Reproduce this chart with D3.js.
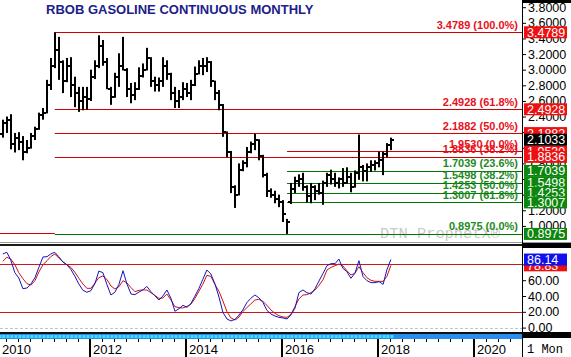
<!DOCTYPE html>
<html><head><meta charset="utf-8">
<script src="https://cdn.jsdelivr.net/npm/d3@7"></script>
<style>html,body{margin:0;padding:0;background:#fff;}svg{display:block;}</style>
</head><body>
<svg id="c" width="571" height="357"></svg>
<script>
// ---------------- DATA ----------------
const title = "RBOB GASOLINE CONTINUOUS MONTHLY";
const months = [
 "2010-03","2010-04","2010-05","2010-06","2010-07","2010-08","2010-09","2010-10","2010-11","2010-12",
 "2011-01","2011-02","2011-03","2011-04","2011-05","2011-06","2011-07","2011-08","2011-09","2011-10","2011-11","2011-12",
 "2012-01","2012-02","2012-03","2012-04","2012-05","2012-06","2012-07","2012-08","2012-09","2012-10","2012-11","2012-12",
 "2013-01","2013-02","2013-03","2013-04","2013-05","2013-06","2013-07","2013-08","2013-09","2013-10","2013-11","2013-12",
 "2014-01","2014-02","2014-03","2014-04","2014-05","2014-06","2014-07","2014-08","2014-09","2014-10","2014-11","2014-12",
 "2015-01","2015-02","2015-03","2015-04","2015-05","2015-06","2015-07","2015-08","2015-09","2015-10","2015-11","2015-12",
 "2016-01","2016-02","2016-03","2016-04","2016-05","2016-06","2016-07","2016-08","2016-09","2016-10","2016-11","2016-12",
 "2017-01","2017-02","2017-03","2017-04","2017-05","2017-06","2017-07","2017-08","2017-09","2017-10","2017-11","2017-12",
 "2018-01","2018-02","2018-03","2018-04"];
const opens = [
 2.18,2.32,2.36,2.05,2.12,2.08,1.95,2.00,2.15,2.24,
 2.42,2.45,2.80,3.05,3.25,3.10,2.85,3.05,2.80,2.70,2.60,2.65,
 2.62,2.90,3.05,3.30,3.10,2.75,2.65,2.90,3.05,3.00,2.75,2.68,
 2.75,2.92,3.00,3.15,2.85,2.80,2.85,3.05,2.95,2.70,2.60,2.65,
 2.75,2.70,2.80,2.95,3.05,3.05,3.10,2.85,2.70,2.55,2.20,1.95,
 1.50,1.40,1.72,1.80,1.95,2.05,2.10,1.90,1.65,1.45,1.40,1.35,
 1.30,1.15,1.30,1.47,1.58,1.60,1.50,1.38,1.50,1.45,1.42,1.55,
 1.65,1.60,1.55,1.60,1.55,1.62,1.50,1.68,1.75,1.70,1.75,1.78,
 1.80,1.85,1.92,2.03];
const highs = [
 2.36,2.40,2.43,2.19,2.20,2.15,2.10,2.19,2.27,2.45,
 2.51,2.87,3.15,3.4789,3.42,3.12,3.15,3.16,2.91,2.78,2.78,2.78,
 3.00,3.12,3.44,3.38,3.15,2.78,2.96,3.21,3.42,3.02,2.83,2.84,
 3.03,3.08,3.28,3.16,2.91,2.90,3.16,3.12,2.96,2.78,2.74,2.84,
 2.83,2.87,3.04,3.12,3.15,3.16,3.11,2.86,2.74,2.56,2.21,1.96,
 1.52,1.80,1.84,2.01,2.08,2.18,2.11,1.91,1.68,1.48,1.45,1.40,
 1.33,1.09,1.55,1.63,1.66,1.68,1.52,1.55,1.52,1.55,1.58,1.68,
 1.72,1.68,1.62,1.74,1.75,1.68,1.71,2.17,1.78,1.80,1.84,1.84,
 1.95,1.95,2.06,2.13];
const lows = [
 2.13,2.19,1.98,1.94,1.97,1.84,1.93,1.99,2.10,2.23,
 2.36,2.44,2.74,3.02,2.87,2.70,2.84,2.65,2.52,2.46,2.48,2.49,
 2.60,2.88,3.02,3.05,2.75,2.55,2.64,2.78,2.99,2.65,2.57,2.61,
 2.74,2.90,2.99,2.78,2.72,2.72,2.78,2.87,2.61,2.51,2.51,2.61,
 2.65,2.61,2.79,2.94,2.93,2.97,2.78,2.61,2.48,2.14,1.88,1.42,
 1.23,1.39,1.70,1.75,1.93,1.97,1.84,1.62,1.37,1.36,1.29,1.24,
 1.05,0.8975,1.28,1.42,1.50,1.45,1.30,1.29,1.33,1.40,1.27,1.50,
 1.53,1.50,1.48,1.50,1.54,1.43,1.49,1.59,1.57,1.57,1.69,1.71,
 1.75,1.65,1.88,1.97];
const closes = [
 2.32,2.36,2.05,2.12,2.08,1.95,2.00,2.15,2.24,2.42,
 2.45,2.80,3.05,3.25,3.10,2.85,3.05,2.80,2.70,2.60,2.65,2.62,
 2.90,3.05,3.30,3.10,2.75,2.65,2.90,3.05,3.00,2.75,2.68,2.75,
 2.92,3.00,3.15,2.85,2.80,2.85,3.05,2.95,2.70,2.60,2.65,2.75,
 2.70,2.80,2.95,3.05,3.05,3.10,2.85,2.70,2.55,2.20,1.95,1.50,
 1.40,1.72,1.80,1.95,2.05,2.10,1.90,1.65,1.45,1.40,1.35,1.30,
 1.15,1.05,1.47,1.58,1.60,1.50,1.38,1.50,1.45,1.42,1.55,1.65,
 1.60,1.55,1.60,1.55,1.62,1.50,1.68,1.75,1.70,1.75,1.78,1.80,
 1.85,1.92,2.03,2.1033];
const stochK = [
 93.2,95.3,85.6,69.5,62.8,49.3,50.1,55.2,63.2,76.3,
 89.4,89.8,93.2,95.3,89.8,83.0,79.7,73.8,64.9,55.2,47.2,44.7,
 46.8,56.0,71.6,69.5,54.8,41.3,44.7,54.8,72.0,55.2,42.5,41.7,
 45.1,48.0,52.2,45.5,40.4,34.9,40.0,47.6,37.0,20.6,24.0,28.2,
 25.7,30.7,39.6,49.3,61.1,72.9,67.9,55.6,38.7,19.3,10.9,8.4,
 10.5,16.0,22.3,31.6,37.0,41.3,37.9,32.0,21.9,17.2,14.7,13.0,
 12.2,10.9,16.0,24.4,44.2,47.6,44.2,42.5,49.3,59.0,68.7,78.4,
 81.0,81.0,86.8,75.0,70.8,62.4,68.7,84.7,64.5,59.4,56.9,56.9,
 58.2,54.8,72.9,86.14];
const stochD = [
 83.9,89.0,86.8,79.7,69.5,62.0,55.6,53.9,59.4,70.4,
 79.7,84.7,89.8,93.2,88.1,83.5,79.7,76.3,70.0,62.4,55.2,49.7,
 49.7,56.5,63.2,65.3,61.1,52.7,48.9,51.8,59.4,56.5,50.6,45.5,
 47.2,47.6,47.6,44.2,40.8,37.0,37.5,42.5,34.9,26.5,25.2,24.8,
 26.9,29.9,36.6,45.9,54.8,66.2,64.9,54.8,45.9,33.7,20.2,12.2,
 9.6,13.4,20.2,25.2,29.9,34.9,35.8,33.2,28.2,22.3,18.1,15.1,
 13.4,13.0,16.8,26.5,36.2,41.3,41.7,44.2,47.6,53.5,60.7,72.9,
 76.3,78.4,80.5,78.0,72.1,66.6,68.7,77.1,69.5,63.2,59.8,58.6,
 58.6,58.5,64.5,78.83];
// Fibonacci levels (red: retracement of 2011 high to 2016 low; green: 2016 low to 1.9530)
const redFibValues = [3.4789, 2.4928, 2.1882, 1.9530, 1.8836];
const redFibPct    = ["100.0%", "61.8%", "50.0%", "0.0%", "38.2%"];
const redFibFrom   = ["2011-04", "2011-04", "2011-04", "2016-02", "2011-04"];
const redLowValue  = 0.8975;             // red 0.0% line, drawn left of the high
const greenFibValues = [0.8975, 1.7039, 1.5498, 1.4253, 1.3007];
const greenFibPct    = ["0.0%", "23.6%", "38.2%", "50.0%", "61.8%"];
const greenFibFrom   = ["2011-04", "2016-02", "2016-02", "2016-02", "2016-02"];
const priceTicks = [1.0,1.2,1.4,1.6,1.8,2.0,2.2,2.4,2.6,2.8,3.0,3.2,3.4,3.6,3.8];
const priceTickLabels = [1.0,1.2,1.8,2.4,2.6,2.8,3.0,3.2,3.4,3.6,3.8];
const stochTicks = [0,20,40,60,80];
const stochTickLabels = [0,20,40,60];
const stochBands = [80,20];
const yearTicks = ["2010","2012","2014","2016","2018","2020"];
const periodLabel = "1 Mon";
const watermark = "DTN ProphetX\u00AE";

// ---------------- SETUP ----------------
const W = 571, H = 357, AX = 522;
const svg = d3.select("#c");
const parseM = d3.timeParse("%Y-%m");
const dates = months.map(parseM);
const bars = dates.map((d,i)=>({d, o:opens[i], h:highs[i], l:lows[i], c:closes[i], k:stochK[i], dd:stochD[i]}));

const x = d3.scaleTime().domain([new Date(2010,0,1), new Date(2020,0,1)]).range([-6, 474]);
const yP = d3.scaleLinear().domain([1.0, 3.8]).range([225.9, 7.2]);
const yS = d3.scaleLinear().domain([0, 100]).range([327.6, 248.6]);
const bx = d => x(d) + 1;

const defs = svg.append("defs");
defs.append("clipPath").attr("id","cp").append("rect").attr("x",0).attr("y",0).attr("width",AX).attr("height",243);
defs.append("clipPath").attr("id","cs").append("rect").attr("x",0).attr("y",247).attr("width",AX).attr("height",86);

const FONT = "'Liberation Sans', Arial, sans-serif";
const RED_LINE = "#d00000", RED_TXT = "#e8101a", RED_BOX = "#ee1010";
const GRN_LINE = "#007800", GRN_TXT = "#1e8a1e", GRN_BOX = "#0c860c";

// watermark
svg.append("text").attr("x",380).attr("y",238).attr("font-family","'Liberation Mono', 'Courier New', monospace")
  .attr("font-size",15).attr("fill","#c9c9c9").attr("textLength",120).attr("lengthAdjust","spacingAndGlyphs").text(watermark);

// title
svg.append("text").attr("x",46).attr("y",14).attr("font-family",FONT).attr("font-weight","bold")
  .attr("font-size",13).attr("fill","#20208a").text(title);

// ---------------- PRICE PANEL ----------------
const gp = svg.append("g").attr("clip-path","url(#cp)");
gp.append("line").attr("x1",0).attr("x2",bx(parseM(redFibFrom[0])))
  .attr("y1",Math.round(yP(redLowValue))-0.5).attr("y2",Math.round(yP(redLowValue))-0.5)
  .attr("stroke",RED_LINE).attr("stroke-width",1);
redFibValues.forEach((v,i)=>{
  const yy = Math.round(yP(v))+0.5;
  gp.append("line").attr("x1",bx(parseM(redFibFrom[i]))).attr("x2",AX).attr("y1",yy).attr("y2",yy)
    .attr("stroke",RED_LINE).attr("stroke-width",1);
});
greenFibValues.forEach((v,i)=>{
  const yy = Math.round(yP(v))+0.5;
  gp.append("line").attr("x1",bx(parseM(greenFibFrom[i]))).attr("x2",AX).attr("y1",yy).attr("y2",yy)
    .attr("stroke",GRN_LINE).attr("stroke-width",1);
});
// fib labels
redFibValues.forEach((v,i)=>{
  gp.append("text").attr("x",518).attr("y",yP(v)-3.5).attr("text-anchor","end")
    .attr("font-family",FONT).attr("font-weight","bold").attr("font-size",11).attr("fill",RED_TXT)
    .text(v.toFixed(4)+" ("+redFibPct[i]+")");
});
greenFibValues.forEach((v,i)=>{
  gp.append("text").attr("x",518).attr("y",yP(v)-3.5).attr("text-anchor","end")
    .attr("font-family",FONT).attr("font-weight","bold").attr("font-size",11).attr("fill",GRN_TXT)
    .text(v.toFixed(4)+" ("+greenFibPct[i]+")");
});
// OHLC bars
const gb = gp.append("g").attr("fill","#000");
bars.forEach(b=>{
  const cx = Math.round(bx(b.d));
  const yh = yP(b.h), yl = yP(b.l);
  gb.append("rect").attr("x",cx-1).attr("y",yh).attr("width",2).attr("height",Math.max(1,yl-yh));
  gb.append("rect").attr("x",cx-3).attr("y",Math.round(yP(b.o))-1).attr("width",2).attr("height",2);
  gb.append("rect").attr("x",cx+1).attr("y",Math.round(yP(b.c))-1).attr("width",2).attr("height",2);
});

// ---------------- STOCH PANEL ----------------
const gs = svg.append("g").attr("clip-path","url(#cs)");
gs.append("line").attr("x1",0).attr("x2",AX).attr("y1",Math.round(yS(0))+0.5).attr("y2",Math.round(yS(0))+0.5)
  .attr("stroke","#b8c4dc").attr("stroke-dasharray","3,2");
stochBands.forEach(v=>{
  const yy = Math.round(yS(v))+0.5;
  gs.append("line").attr("x1",0).attr("x2",AX).attr("y1",yy).attr("y2",yy).attr("stroke","#d01818");
});
gs.append("path").datum(bars).attr("fill","none").attr("stroke","#d01010").attr("stroke-width",1)
  .attr("d",d3.line().x(b=>bx(b.d)).y(b=>yS(b.dd)));
gs.append("path").datum(bars).attr("fill","none").attr("stroke","#1414c0").attr("stroke-width",1)
  .attr("d",d3.line().x(b=>bx(b.d)).y(b=>yS(b.k)));

// ---------------- FRAMES ----------------
svg.append("line").attr("x1",0).attr("x2",W).attr("y1",242.5).attr("y2",242.5).attr("stroke","#9a9a9a");
svg.append("rect").attr("x",0).attr("y",244).attr("width",W).attr("height",2).attr("fill","#1a1a1a");
svg.append("rect").attr("x",AX).attr("y",0).attr("width",W-AX).attr("height",3).attr("fill","#000");
svg.append("rect").attr("x",AX).attr("y",243).attr("width",W-AX).attr("height",5).attr("fill","#000");
svg.append("line").attr("x1",AX+0.5).attr("x2",AX+0.5).attr("y1",0).attr("y2",H).attr("stroke","#000");

// price axis
const ga = svg.append("g").attr("transform",`translate(${AX},0)`);
ga.call(d3.axisRight(yP).tickValues(priceTicks).tickSize(4)
    .tickFormat(v=>priceTickLabels.some(t=>Math.abs(t-v)<1e-9)?d3.format(".4f")(v):""))
  .call(g=>g.select(".domain").remove())
  .call(g=>g.selectAll("text").attr("font-family",FONT).attr("font-size",12.5).attr("fill","#000").attr("x",6))
  .call(g=>g.selectAll("line").attr("stroke","#000"));
// stoch axis
const gsa = svg.append("g").attr("transform",`translate(${AX},0)`);
gsa.call(d3.axisRight(yS).tickValues(stochTicks).tickSize(4)
    .tickFormat(v=>stochTickLabels.includes(v)?d3.format(".2f")(v):""))
  .call(g=>g.select(".domain").remove())
  .call(g=>g.selectAll("text").attr("font-family",FONT).attr("font-size",12.5).attr("fill","#000").attr("x",6))
  .call(g=>g.selectAll("line").attr("stroke","#000"));

// value boxes
function box(yv, txt, fill){
  const g = svg.append("g");
  g.append("rect").attr("x",AX+2).attr("y",yv-6).attr("width",43).attr("height",12).attr("fill",fill);
  g.append("text").attr("x",AX+5).attr("y",yv).attr("dy","0.36em").attr("font-family",FONT)
    .attr("font-size",12.5).attr("fill","#fff").text(txt);
}
redFibValues.forEach(v=>box(yP(v), v.toFixed(4), RED_BOX));
greenFibValues.forEach(v=>box(yP(v), v.toFixed(4), GRN_BOX));
const last = bars[bars.length-1];
box(yP(last.c), last.c.toFixed(4), "#000");
box(yS(last.dd), last.dd.toFixed(2), RED_BOX);
box(yS(last.k), last.k.toFixed(2), "#1010ee");

// ---------------- TIME AXIS ----------------
svg.append("rect").attr("x",0).attr("y",332).attr("width",W).attr("height",2).attr("fill","#111");
svg.append("rect").attr("x",AX).attr("y",332).attr("width",W-AX).attr("height",6).attr("fill","#000");
svg.append("rect").attr("x",0).attr("y",334).attr("width",AX).attr("height",5).attr("fill","#2b8cf0");
const endM = d3.timeMonth.offset(last.d,1);
const checkMonths = d3.timeMonth.range(new Date(2009,11,1), endM);
svg.append("g").selectAll("rect").data(checkMonths).join("rect")
  .attr("x",d=>x(d)+0.5).attr("y",335).attr("width",3).attr("height",3).attr("fill","#3fe0f8");
const quarters = d3.timeMonth.every(3).range(new Date(2010,0,1), new Date(2021,0,1));
svg.append("g").selectAll("line").data(quarters).join("line")
  .attr("x1",d=>Math.round(x(d))+0.5).attr("x2",d=>Math.round(x(d))+0.5).attr("y1",339).attr("y2",342)
  .attr("stroke","#000");
yearTicks.forEach(t=>{
  const xx = Math.round(x(new Date(+t,0,1)));
  svg.append("rect").attr("x",xx-1).attr("y",339).attr("width",2).attr("height",H-339).attr("fill","#000");
  svg.append("text").attr("x",Math.max(xx+3,2)).attr("y",354).attr("font-family",FONT).attr("font-size",13)
    .attr("fill","#000").text(t);
});
svg.append("text").attr("x",527).attr("y",353).attr("font-family","'Liberation Mono', 'Courier New', monospace")
  .attr("font-size",12).attr("fill","#000").text(periodLabel);
</script>
</body></html>
